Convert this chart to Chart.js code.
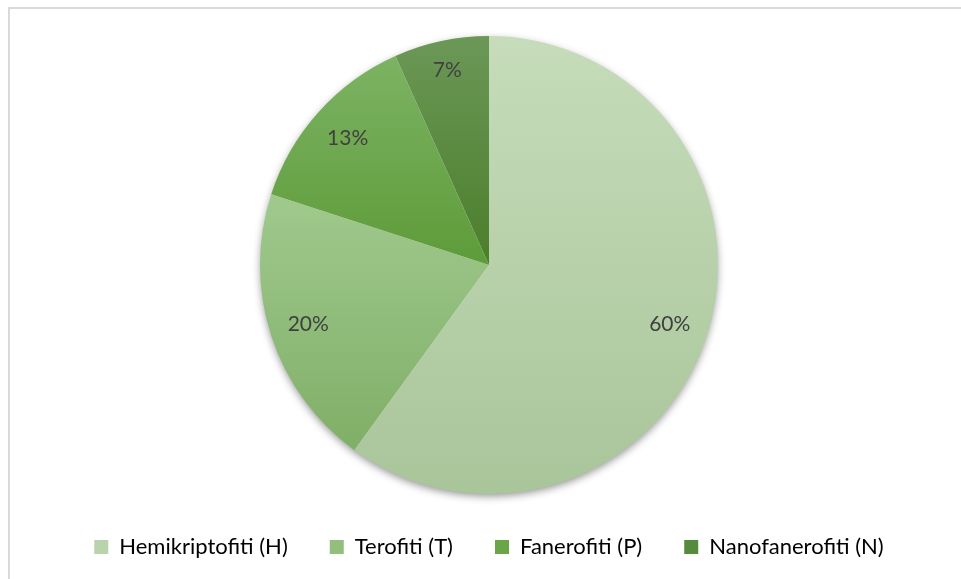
<!DOCTYPE html>
<html>
<head>
<meta charset="utf-8">
<script src="https://cdn.jsdelivr.net/npm/chart.js@4/dist/chart.umd.min.js"></script>
<style>
  body { margin: 0; background: #fff; overflow: hidden; }
  #wrap { position: relative; width: 961px; height: 579px; }
  #frame { position: absolute; left: 8px; top: 7px; width: 1000px; height: 700px;
           border-left: 2px solid #d9d9d9; border-top: 2px solid #d9d9d9; pointer-events: none; }
</style>
</head>
<body>
<div id="wrap">
  <canvas id="myChart" width="961" height="579"></canvas>
  <div id="frame"></div>
</div>
<script>
var categories = ['Hemikriptofiti (H)', 'Terofiti (T)', 'Fanerofiti (P)', 'Nanofanerofiti (N)'];
var shares = [60, 20, 13.3, 6.7];
var pctLabels = ['60%', '20%', '13%', '7%'];

// gradient colours per slice (top -> bottom), plus flat colour for legend
var topColors = ['#c6dcba', '#a0c98e', '#7cb363', '#6b9857'];
var bottomColors = ['#a9c59a', '#80af67', '#5e9b39', '#4b7e2b'];
var legendColors = ['#b9d3ac', '#92bf7e', '#6aa648', '#568a3c'];
var labelRadius = [0.83, 0.83, 0.83, 0.87];

function sliceGradient(c) {
  var chart = c.chart, ca = chart.chartArea, i = c.dataIndex;
  if (!ca) return legendColors[i];
  var cx = (ca.left + ca.right) / 2, cy = (ca.top + ca.bottom) / 2;
  var r = Math.min(ca.width, ca.height) / 2;
  var total = shares.reduce(function (a, b) { return a + b; }, 0);
  var before = 0;
  for (var k = 0; k < i; k++) before += shares[k];
  var a0 = before / total * Math.PI * 2 - Math.PI / 2;
  var a1 = (before + shares[i]) / total * Math.PI * 2 - Math.PI / 2;
  var ymin = cy, ymax = cy;
  for (var s = 0; s <= 60; s++) {
    var y = cy + r * Math.sin(a0 + (a1 - a0) * s / 60);
    ymin = Math.min(ymin, y); ymax = Math.max(ymax, y);
  }
  var g = chart.ctx.createLinearGradient(0, ymin, 0, ymax);
  g.addColorStop(0, topColors[i]);
  g.addColorStop(1, bottomColors[i]);
  return g;
}

var pieShadow = {
  id: 'pieShadow',
  beforeDatasetsDraw: function (chart) {
    var arc = chart.getDatasetMeta(0).data[0];
    if (!arc) return;
    var ctx = chart.ctx;
    ctx.save();
    ctx.shadowColor = 'rgba(0,0,0,0.45)';
    ctx.shadowBlur = 9;
    ctx.shadowOffsetY = 3;
    ctx.fillStyle = '#ffffff';
    ctx.beginPath();
    ctx.arc(arc.x, arc.y, arc.outerRadius - 1, 0, Math.PI * 2);
    ctx.fill();
    ctx.restore();
  }
};

var pctText = {
  id: 'pctText',
  afterDatasetsDraw: function (chart) {
    var ctx = chart.ctx;
    ctx.save();
    ctx.font = '21px Lato';
    ctx.fillStyle = '#404040';
    ctx.textAlign = 'center';
    ctx.textBaseline = 'middle';
    chart.getDatasetMeta(0).data.forEach(function (arc, i) {
      var mid = (arc.startAngle + arc.endAngle) / 2;
      var rr = arc.outerRadius * labelRadius[i];
      ctx.fillText(pctLabels[i], arc.x + Math.cos(mid) * rr, arc.y + Math.sin(mid) * rr);
    });
    ctx.restore();
  }
};

var ctx = document.getElementById('myChart').getContext('2d');
var myChart = new Chart(ctx, {
  type: 'pie',
  data: {
    labels: categories,
    datasets: [{
      data: shares,
      backgroundColor: sliceGradient,
      borderWidth: 0
    }]
  },
  options: {
    responsive: false,
    animation: false,
    layout: { padding: { top: 36, bottom: 11, left: 17, right: 0 } },
    plugins: {
      tooltip: { enabled: false },
      legend: {
        position: 'bottom',
        labels: {
          boxWidth: 14,
          boxHeight: 14,
          padding: 42,
          color: '#595959',
          font: { family: 'Lato', size: 22 },
          generateLabels: function (chart) {
            return categories.map(function (name, i) {
              return { text: name, fillStyle: legendColors[i], strokeStyle: legendColors[i],
                       lineWidth: 0, hidden: false, index: i };
            });
          }
        }
      }
    }
  },
  plugins: [pieShadow, pctText]
});
</script>
</body>
</html>
